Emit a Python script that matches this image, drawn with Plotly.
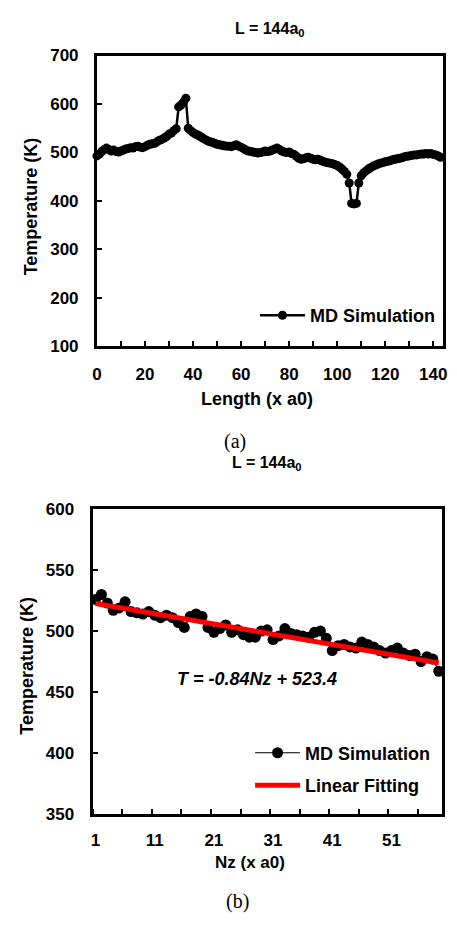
import plotly.graph_objects as go

# ---- (a) temperature profile along the sample, L = 144 a0 ----
length_pos = list(range(144))
temp_profile = [
    493, 497, 502, 506, 509, 506, 503, 505, 502, 501,
    503, 505, 507, 508, 510, 509, 512, 513, 511, 510,
    512, 515, 517, 518, 519, 522, 525, 527, 530, 533,
    538, 540, 545, 549, 594, 598, 604, 612, 550, 545,
    541, 538, 536, 533, 530, 527, 524, 522, 521, 519,
    517, 516, 515, 514, 513, 513, 512, 514, 516, 513,
    511, 508, 505, 503, 502, 501, 500, 499, 500, 501,
    503, 502, 503, 505, 507, 509, 506, 503, 501, 500,
    501, 498, 496, 492, 488, 486, 487, 489, 490, 488,
    486, 485, 486, 484, 482, 480, 479, 478, 477, 475,
    473, 470, 466, 461, 455, 437, 395, 394, 395, 437,
    452, 458, 462, 466, 469, 472, 474, 476, 478, 479,
    481, 482, 483, 485, 486, 487, 488, 489, 491, 492,
    493, 494, 495, 495, 496, 497, 497, 498, 497, 498,
    496, 495, 493, 490,
]
x_ticks_a = [0, 20, 40, 60, 80, 100, 120, 140]

# ---- (b) slab temperatures with linear fit ----
nz = list(range(1, 60))
temp_slab = [
    526, 530, 523, 517, 519, 524, 516, 515, 514, 516,
    513, 511, 513, 511, 507, 503, 512, 514, 512, 503,
    499, 502, 505, 499, 501, 497, 495, 495, 500, 501,
    493, 496, 502, 498, 497, 496, 495, 499, 500, 494,
    484, 488, 489, 487, 486, 491, 489, 487, 484, 482,
    484, 486, 482, 480, 481, 475, 479, 477, 467,
]
x_ticks_b = [1, 11, 21, 31, 41, 51]

fit_slope = -0.84
fit_intercept = 523.4
fit_x = [nz[0], nz[-1]]
fit_y = [fit_slope * v + fit_intercept for v in fit_x]

W, H = 457, 925
SANS = "Liberation Sans"
SERIF = "Liberation Serif"


def fx(px):
    return px / W


def fy(px):
    return 1 - px / H


fig = go.Figure()

fig.add_trace(go.Scatter(
    x=length_pos, y=temp_profile, mode="lines+markers", name="MD Simulation",
    line=dict(color="black", width=2.5),
    marker=dict(symbol="circle", size=9, color="black"),
    cliponaxis=False, xaxis="x", yaxis="y", legend="legend",
))

fig.add_trace(go.Scatter(
    x=nz, y=temp_slab, mode="lines+markers", name="MD Simulation",
    line=dict(color="black", width=1.2),
    marker=dict(symbol="circle", size=11, color="black"),
    cliponaxis=False, xaxis="x2", yaxis="y2", legend="legend2", legendgroup="md",
))

fig.add_trace(go.Scatter(
    x=fit_x, y=fit_y, mode="lines", name="Linear Fitting",
    line=dict(color="#ff0000", width=5),
    cliponaxis=False, xaxis="x2", yaxis="y2", legend="legend2", legendgroup="fit",
))

tick_font = dict(family=SANS, size=17, color="black", weight="bold")
axis_common = dict(
    showline=True, linewidth=3, linecolor="black", mirror=True,
    showgrid=False, zeroline=False, ticks="inside", ticklen=5,
    tickwidth=2, tickcolor="black", tickfont=tick_font,
)

fig.update_layout(
    width=W, height=H,
    margin=dict(l=0, r=0, t=0, b=0),
    paper_bgcolor="white", plot_bgcolor="white",
    font=dict(family=SANS, color="black"),
    xaxis=dict(
        axis_common, domain=[fx(93.8), fx(446.7)], range=[0, 144],
        tickmode="array", tickvals=x_ticks_a, anchor="y",
        minor=dict(tick0=0, dtick=10, ticks="inside", ticklen=5,
                   tickwidth=2, tickcolor="black"),
        ticklabelstandoff=10,
    ),
    yaxis=dict(
        axis_common, domain=[fy(344.5), fy(47.5)], range=[100, 700],
        tick0=100, dtick=100, anchor="x", ticklabelstandoff=12,
    ),
    xaxis2=dict(
        axis_common, domain=[fx(89.3), fx(445.5)], range=[0.5, 59.5],
        tickmode="array", tickvals=x_ticks_b, ticks="", anchor="y2",
        minor=dict(tick0=0.5, dtick=5, ticks="inside", ticklen=5,
                   tickwidth=2, tickcolor="black"),
        ticklabelstandoff=9,
    ),
    yaxis2=dict(
        axis_common, domain=[fy(821.7), fy(510.7)], range=[350, 600],
        tick0=350, dtick=50, anchor="x2", ticklabelstandoff=12,
    ),
    showlegend=True,
    legend=dict(
        x=fx(255), y=fy(313), xanchor="left", yanchor="middle",
        bgcolor="rgba(0,0,0,0)", borderwidth=0,
        font=dict(family=SANS, size=18, color="black", weight="bold"),
        itemwidth=45,
    ),
    legend2=dict(
        x=fx(250), y=fy(776), xanchor="left", yanchor="middle",
        bgcolor="rgba(0,0,0,0)", borderwidth=0, traceorder="grouped",
        tracegroupgap=6,
        font=dict(family=SANS, size=18, color="black", weight="bold"),
        itemwidth=45,
    ),
)

annotations = [
    dict(text="L = 144a<sub>0</sub>", x=fx(270), y=fy(21),
         font=dict(family=SANS, size=16, weight="bold")),
    dict(text="L = 144a<sub>0</sub>", x=fx(267), y=fy(464),
         font=dict(family=SANS, size=16, weight="bold")),
    dict(text="Length (x a0)", x=fx(257), y=fy(398),
         font=dict(family=SANS, size=18, weight="bold")),
    dict(text="Nz (x a0)", x=fx(250), y=fy(871),
         font=dict(family=SANS, size=17, weight="bold")),
    dict(text="Temperature (K)", x=fx(26), y=fy(201), textangle=-90,
         font=dict(family=SANS, size=18, weight="bold")),
    dict(text="Temperature (K)", x=fx(23), y=fy(671), textangle=-90,
         font=dict(family=SANS, size=18, weight="bold")),
    dict(text="(a)", x=fx(235), y=fy(442),
         font=dict(family=SERIF, size=20)),
    dict(text="(b)", x=fx(237), y=fy(911),
         font=dict(family=SERIF, size=20)),
    dict(text="T = -0.84Nz + 523.4", x=fx(257), y=fy(684),
         font=dict(family=SANS, size=18, weight="bold", style="italic")),
]
for a in annotations:
    a.update(xref="paper", yref="paper", showarrow=False,
             xanchor="center", yanchor="middle")
    a["font"].setdefault("color", "black")
fig.update_layout(annotations=annotations)

fig.write_html("out.html")
